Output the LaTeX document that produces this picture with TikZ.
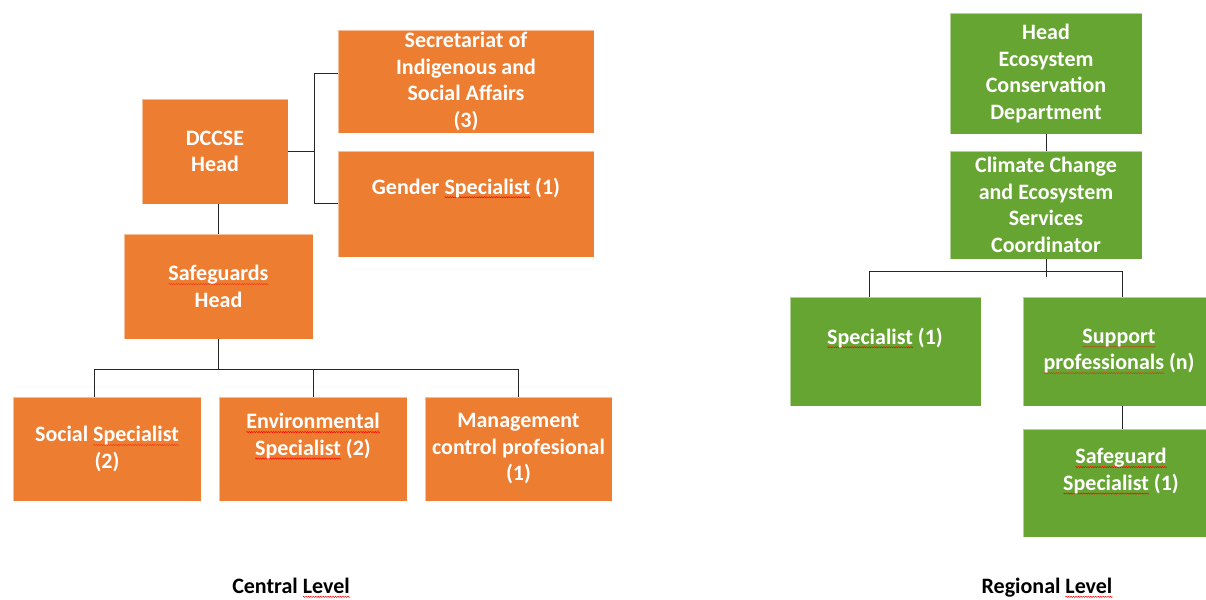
\documentclass[tikz,border=0pt]{standalone}
\usepackage{fontspec}
\setmainfont{Carlito}[BoldFont={Carlito Bold}]
\usepackage{xcolor}
\definecolor{orgorange}{HTML}{ED7D31}
\definecolor{orggreen}{HTML}{66A532}
\newsavebox\wavebox
\newcommand\spellwave[1]{\leavevmode\setbox0\hbox{#1}\rlap{\raisebox{-3.2pt}{\hbox to\wd0{\xleaders\copy\wavebox\hfil}}}\box0\relax}
\tikzset{
  unit/.style={rectangle, draw=white, draw opacity=.5, line width=.8pt, text=white, align=center,
    font=\bfseries\fontsize{22}{26.5}\selectfont, inner sep=0pt},
  central/.style={unit, fill=orgorange},
  regional/.style={unit, fill=orggreen},
  txt/.style={text=white, align=center, font=\bfseries\fontsize{22}{26.5}\selectfont, inner sep=0pt},
  level/.style={align=center, font=\bfseries\fontsize{22}{26.5}\selectfont, inner sep=0pt},
  link/.style={line width=1pt, black!85}
}

\begin{document}
\sbox\wavebox{\begin{pgfpicture}
  \pgfsetbaseline{0pt}
  \pgfpathrectangle{\pgfpoint{0pt}{-1pt}}{\pgfpoint{2.4pt}{2pt}}\pgfusepath{use as bounding box}
  \pgfsetlinewidth{.5pt}\pgfsetstrokecolor{red}
  \pgfpathmoveto{\pgfpoint{0pt}{0pt}}
  \pgfpathsine{\pgfpoint{.6pt}{.6pt}}\pgfpathcosine{\pgfpoint{.6pt}{-.6pt}}
  \pgfpathsine{\pgfpoint{.6pt}{-.6pt}}\pgfpathcosine{\pgfpoint{.6pt}{.6pt}}
  \pgfusepath{stroke}
\end{pgfpicture}}
\begin{tikzpicture}[x=1pt,y=1pt]
\useasboundingbox (0,0) rectangle (1206,599);
% central level
\node (secr) at (466,517.5) [central, minimum width=256, minimum height=103]{Secretariat of\\Indigenous and\\Social Affairs\\(3)};
\node (gender) at (466,395) [central, minimum width=256, minimum height=106]{};
\node (gendertxt) at (466,411) [txt]{Gender \spellwave{Specialist} (1)};
\node (dccse) at (215,447.5) [central, minimum width=146, minimum height=105]{DCCSE\\Head};
\node (sfghead) at (218.5,312.5) [central, minimum width=189, minimum height=105]{\spellwave{Safeguards}\\Head};
\node (social) at (107,150) [central, minimum width=188, minimum height=104]{Social \spellwave{Specialist}\\(2)};
\node (envir) at (313,150) [central, minimum width=188, minimum height=104]{};
\node (envirtxt) at (313,162.5) [txt]{\spellwave{Environmental}\\\spellwave{Specialist} (2)};
\node (mgmt) at (518.5,150) [central, minimum width=187, minimum height=104]{Management\\control profesional\\(1)};
\node (central) at (291,11) [level]{Central \spellwave{Level}};
\coordinate (ct) at (314,525);
\draw[link] (dccse.east) -- (dccse.east -| ct);
\draw[link] (ct -| secr.west) -- (ct) |- (gender.west);
\draw[link] (sfghead.north) -- (sfghead.north |- dccse.south);
\draw[link] (sfghead.south) -- ++(0,-31);
\draw[link] ([xshift=-13pt]social.north) -- ++(0,27) -| (mgmt.north);
\draw[link] (envir.north) -- ++(0,27);
% regional level
\node (head) at (1046,525.5) [regional, minimum width=192, minimum height=121]{Head\\Ecosystem\\Conservation\\Department};
\node (coord) at (1046,394) [regional, minimum width=192, minimum height=108]{Climate Change\\and Ecosystem\\Services\\Coordinator};
\node (spec) at (885.5,247.5) [regional, minimum width=191, minimum height=109]{};
\node (spectxt) at (885,261) [txt]{\spellwave{Specialist} (1)};
\node (support) at (1119,247.5) [regional, minimum width=192, minimum height=109]{\spellwave{Support}\\\spellwave{professionals} (n)};
\node (safeg) at (1119,116) [regional, minimum width=192, minimum height=108]{};
\node (safegtxt) at (1121,127.5) [txt]{\spellwave{Safeguard}\\\spellwave{Specialist} (1)};
\node (regional) at (1047,11) [level]{Regional \spellwave{Level}};
\draw[link] (head.south) -- (coord.north);
\draw[link] (coord.south) -- ++(0,-18);
\draw[link] ([xshift=-16.5pt]spec.north) -- ++(0,25) -| ([xshift=3pt]support.north);
\draw[link] ([xshift=3pt]support.south) -- ([xshift=3pt]safeg.north);
\end{tikzpicture}
\end{document}
